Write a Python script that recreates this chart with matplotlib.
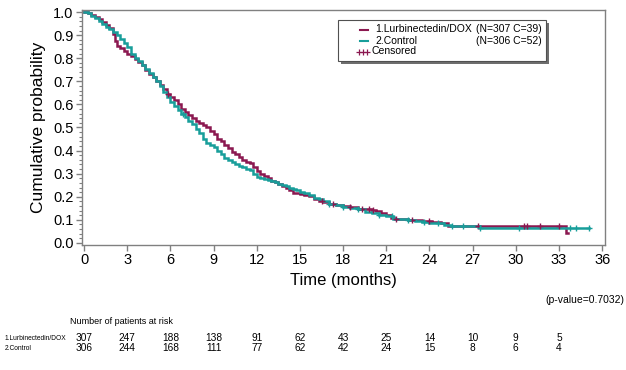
import numpy as np
import matplotlib
matplotlib.use("Agg")
import matplotlib.pyplot as plt
from matplotlib.transforms import blended_transform_factory
from matplotlib.patches import Rectangle
from matplotlib.lines import Line2D

plt.rcParams['font.family'] = ['Liberation Sans', 'DejaVu Sans']

# ---------------- data ----------------
lurb_t = [0, 0.25, 0.5, 0.75, 1.0, 1.25, 1.5, 1.75, 2.0, 2.15, 2.3, 2.5, 2.75, 3.0, 3.25,
          3.5, 3.75, 4.0, 4.25, 4.5, 4.75, 5.0, 5.25, 5.5, 5.75, 6.0, 6.25, 6.5, 6.75, 7.0,
          7.25, 7.5, 7.75, 8.0, 8.25, 8.5, 8.75, 9.0, 9.25, 9.5, 9.75, 10.0, 10.25, 10.5,
          10.75, 11.0, 11.25, 11.5, 11.75, 12.0, 12.25, 12.5, 12.75, 13.0, 13.25, 13.5,
          13.75, 14.0, 14.25, 14.5, 15.0, 15.3, 15.6, 16.0, 16.3, 16.6, 17.0, 17.5, 18.0,
          18.5, 19.0, 20.0, 20.3, 20.6, 21.0, 21.3, 21.6, 22.5, 23.5, 24.2, 24.8, 25.3,
          33.5, 33.6]
lurb_s = [1.0, 0.995, 0.987, 0.977, 0.968, 0.958, 0.945, 0.93, 0.905, 0.875, 0.855, 0.845,
          0.832, 0.82, 0.81, 0.797, 0.785, 0.77, 0.75, 0.73, 0.717, 0.70, 0.683, 0.665,
          0.645, 0.63, 0.617, 0.602, 0.58, 0.565, 0.553, 0.54, 0.53, 0.52, 0.51, 0.50,
          0.485, 0.47, 0.452, 0.44, 0.425, 0.41, 0.395, 0.385, 0.372, 0.36, 0.352, 0.345,
          0.33, 0.31, 0.298, 0.288, 0.28, 0.27, 0.262, 0.255, 0.247, 0.24, 0.228, 0.215,
          0.212, 0.208, 0.203, 0.19, 0.183, 0.178, 0.17, 0.165, 0.16, 0.155, 0.148, 0.143,
          0.137, 0.13, 0.12, 0.11, 0.105, 0.10, 0.095, 0.09, 0.085, 0.075, 0.045, 0.045]
lurb_cens = [5.8, 16.5, 17.3, 18.5, 19.3, 19.8, 20.1, 21.7, 22.8, 24.0, 27.4, 30.6, 30.8,
             31.7, 33.0]

ctrl_t = [0, 0.25, 0.5, 0.75, 1.0, 1.25, 1.5, 1.75, 2.0, 2.25, 2.5, 2.75, 3.0, 3.25, 3.5,
          3.75, 4.0, 4.25, 4.5, 4.75, 5.0, 5.25, 5.5, 5.75, 6.0, 6.25, 6.5, 6.75, 7.0, 7.25,
          7.5, 7.75, 8.0, 8.25, 8.5, 8.75, 9.0, 9.25, 9.5, 9.75, 10.0, 10.25, 10.5, 10.75,
          11.0, 11.25, 11.5, 11.75, 12.0, 12.25, 12.5, 12.75, 13.0, 13.25, 13.5, 13.75,
          14.0, 14.25, 14.5, 14.75, 15.0, 15.3, 15.6, 16.0, 16.3, 16.6, 17.0, 17.5, 18.0,
          18.5, 19.0, 19.5, 20.0, 20.5, 21.0, 21.5, 22.5, 23.0, 23.5, 24.0, 24.5, 25.0,
          25.5, 27.5, 35.1]
ctrl_s = [1.0, 0.995, 0.985, 0.975, 0.962, 0.95, 0.937, 0.925, 0.915, 0.90, 0.885, 0.865,
          0.85, 0.82, 0.80, 0.787, 0.772, 0.755, 0.737, 0.72, 0.70, 0.68, 0.655, 0.63,
          0.61, 0.592, 0.575, 0.56, 0.545, 0.53, 0.515, 0.495, 0.475, 0.452, 0.435, 0.425,
          0.415, 0.40, 0.385, 0.37, 0.36, 0.35, 0.34, 0.335, 0.33, 0.322, 0.315, 0.30,
          0.285, 0.28, 0.275, 0.273, 0.27, 0.262, 0.255, 0.25, 0.245, 0.24, 0.235, 0.228,
          0.222, 0.215, 0.208, 0.195, 0.19, 0.183, 0.17, 0.165, 0.155, 0.15, 0.145, 0.135,
          0.128, 0.122, 0.117, 0.105, 0.10, 0.097, 0.092, 0.088, 0.085, 0.078, 0.074,
          0.063, 0.063]
ctrl_cens = [6.9, 17.0, 18.0, 19.0, 20.5, 21.4, 22.5, 23.6, 24.6, 25.6, 26.3, 27.5, 30.2,
             33.8, 34.2, 35.1]

risk_times = [0, 3, 6, 9, 12, 15, 18, 21, 24, 27, 30, 33]
risk_lurb = [307, 247, 188, 138, 91, 62, 43, 25, 14, 10, 9, 5]
risk_ctrl = [306, 244, 168, 111, 77, 62, 42, 24, 15, 8, 6, 4]

group_labels = ["1.Lurbinectedin/DOX", "2.Control"]
legend_main = ["1.Lurbinectedin/DOX", "2.Control"]
legend_counts = ["(N=307 C=39)", "(N=306 C=52)"]
pvalue_text = "(p-value=0.7032)"

maroon = "#8B1850"
teal = "#189E9A"
grey = "#808080"

# ---------------- figure ----------------
W, H = 626, 370
fig = plt.figure(figsize=(W / 100, H / 100), dpi=100)
ax = fig.add_axes([82 / W, 1 - 245 / H, 523 / W, 235 / H])


def step_value(times, surv, x):
    idx = np.searchsorted(times, x, side='right') - 1
    return np.asarray(surv)[idx]


for t, s, c, cens in [(lurb_t, lurb_s, maroon, lurb_cens), (ctrl_t, ctrl_s, teal, ctrl_cens)]:
    ax.plot(t, s, drawstyle='steps-post', color=c, lw=1.8, solid_joinstyle='miter', zorder=3)
    ax.plot(cens, step_value(t, s, cens), ls='none', marker='+', ms=5, mew=1.0,
            color=c, zorder=4)

ax.set_xlim(-0.15, 36.2)
ax.set_ylim(-0.009, 1.009)
ax.set_xticks(np.arange(0, 37, 3))
ax.set_yticks(np.arange(0, 1.01, 0.1))
ax.set_yticklabels([f"{v:.1f}" for v in np.arange(0, 1.01, 0.1)])
ax.set_yticks(np.arange(0, 1.001, 0.02), minor=True)
for sp in ax.spines.values():
    sp.set_color(grey)
    sp.set_linewidth(1.0)
ax.tick_params(axis='both', which='major', direction='out', length=4, width=1,
               color=grey, labelsize=10.5, pad=2)
ax.tick_params(axis='y', which='minor', direction='out', length=2, width=0.8, color=grey)
ax.set_xlabel("Time (months)", fontsize=12, labelpad=4)
ax.set_ylabel("Cumulative probability", fontsize=12.5, labelpad=5)

# ---------------- legend (manual box) ----------------
def ax_frac(px, py):
    return ((px - 82) / 523, (245 - py) / 235)

x0, y0 = ax_frac(338, 61)
x1, y1 = ax_frac(546, 20)
shadow = Rectangle((x0 + 3 / 523, y0 - 3 / 235), x1 - x0, y1 - y0, transform=ax.transAxes,
                   facecolor="#6E6E6E", edgecolor='none', zorder=5)
box = Rectangle((x0, y0), x1 - x0, y1 - y0, transform=ax.transAxes,
                facecolor='white', edgecolor="#505050", lw=0.8, zorder=6)
ax.add_patch(shadow)
ax.add_patch(box)
rows_py = [29.5, 40.5, 51.5]
for i, (c, lab, cnt) in enumerate(zip([maroon, teal], legend_main, legend_counts)):
    lx0, ly = ax_frac(360, rows_py[i])
    lx1, _ = ax_frac(368, rows_py[i])
    ax.add_line(Line2D([lx0, lx1], [ly, ly], color=c, lw=1.5, transform=ax.transAxes, zorder=7))
    tx, _ = ax_frac(375, rows_py[i])
    ax.text(tx, ly, lab, transform=ax.transAxes, fontsize=7.5, va='center', ha='left', zorder=7)
    cx, _ = ax_frac(476, rows_py[i])
    ax.text(cx, ly, cnt, transform=ax.transAxes, fontsize=7.5, va='center', ha='left', zorder=7)
mx = [ax_frac(p, rows_py[2])[0] for p in (359, 363, 367)]
my = ax_frac(360, rows_py[2])[1]
ax.plot(mx, [my] * 3, ls='none', marker='+', ms=4, mew=0.9, color=maroon,
        transform=ax.transAxes, zorder=7, clip_on=False)
ax.text(ax_frac(372, rows_py[2])[0], my, "Censored", transform=ax.transAxes, fontsize=7.5,
        va='center', ha='left', zorder=7)

# ---------------- p-value and risk table ----------------
narrow = ['Liberation Sans Narrow', 'Liberation Sans', 'DejaVu Sans']
fig.text(624 / W, 1 - 300 / H, pvalue_text, ha='right', va='center', fontsize=7.5)
fig.text(70 / W, 1 - 321 / H, "Number of patients at risk", ha='left', va='center',
         fontsize=6.5, family=narrow)
bt = blended_transform_factory(ax.transData, fig.transFigure)
for row_py, lab, vals in [(338, group_labels[0], risk_lurb), (348, group_labels[1], risk_ctrl)]:
    fig.text(5 / W, 1 - row_py / H, lab, ha='left', va='center', fontsize=4.8, family=narrow)
    for t, v in zip(risk_times, vals):
        fig.text(t, 1 - row_py / H, str(v), transform=bt, ha='center', va='center',
                 fontsize=7.3, family=narrow)

fig.savefig("out.png", dpi=100, facecolor='white')
